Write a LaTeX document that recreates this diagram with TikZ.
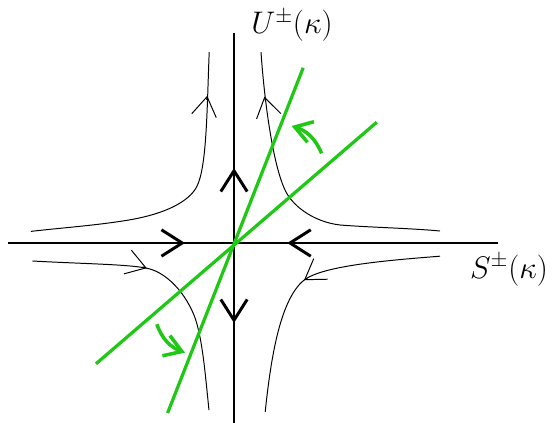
\documentclass[tikz,border=0pt]{standalone}
\usepackage{amsmath, amssymb}
\usepackage{xcolor}
\usepackage{tikz}
\usetikzlibrary{arrows.meta}
\definecolor{eiggreen}{RGB}{30,200,20}
\tikzset{
  axline/.style={line width=2.1pt,black},
  axtip/.style={axline,-{Straight Barb[length=5.2mm,width=6.6mm]}},
  orbit/.style={line width=0.7pt,black},
  orbittip/.style={orbit,-{Straight Barb[length=4.8mm,width=6.2mm]}},
  eigline/.style={eiggreen,line width=2.3pt},
  turnarrow/.style={eiggreen,line width=2.5pt,-{Straight Barb[length=4.2mm,width=5.4mm]}},
  axlabel/.style={font=\huge,scale=1.07,inner sep=1pt},
}
\begin{document}
\begin{tikzpicture}
  \useasboundingbox (-5.85,-4.5) rectangle (7.975,6.075);
  % ---- axes: stable S and unstable U directions ----
  \coordinate (O) at (0,0);
  \coordinate (Sl) at (-5.65,0);
  \coordinate (Sr) at (6.6,0);
  \coordinate (Ut) at (0,5.25);
  \coordinate (Ub) at (0,-4.5);
  \draw[axline] (Sl) -- (Sr);
  \draw[axline] (Ub) -- (Ut);
  \draw[axtip] (-1.7,0) -- (-1.225,0);
  \draw[axtip] (1.8,0) -- (1.33,0);
  \draw[axtip] (0,1.4) -- (0,1.875);
  \draw[axtip] (0,-1.5) -- (0,-2.0);
  \node[axlabel] (Ulab) at (1.45,5.43) {$U^{\pm}(\kappa)$};
  \node[axlabel] (Slab) at (6.875,-0.68) {$S^{\pm}(\kappa)$};
  % ---- orbits near the saddle ----
  \draw[orbit] (-0.62,4.77) .. controls (-0.676,3.37) and (-0.677,1.9) .. (-0.93,1.41)
    .. controls (-1.123,1.036) and (-1.714,0.733) .. (-2.6,0.58)
    .. controls (-3.388,0.444) and (-4.286,0.382) .. (-5.08,0.29);
  \draw[orbit] (0.675,4.77) .. controls (0.765,3.47) and (0.996,1.804) .. (1.32,1.24)
    .. controls (1.494,0.937) and (1.955,0.534) .. (2.65,0.45)
    .. controls (3.4,0.39) and (4.4,0.37) .. (5.15,0.30);
  \draw[orbit] (-5.04,-0.45) .. controls (-3.8,-0.52) and (-2.67,-0.53) .. (-2.18,-0.63)
    .. controls (-1.592,-0.75) and (-1.09,-1.432) .. (-0.93,-2.01)
    .. controls (-0.77,-2.588) and (-0.709,-3.384) .. (-0.625,-4.18);
  \draw[orbit] (5.15,-0.33) .. controls (3.95,-0.426) and (2.218,-0.558) .. (1.75,-0.93)
    .. controls (1.126,-1.426) and (0.907,-3.027) .. (0.78,-4.22);
  \draw[orbittip] (-0.686,3.58) -- (-0.67,3.68);
  \draw[orbittip] (0.782,3.56) -- (0.76,3.66);
  \draw[orbittip] (-2.28,-0.598) -- (-2.18,-0.63);
  \draw[orbittip] (1.833,-0.874) -- (1.75,-0.93);
  % ---- green lines through the origin and their turning ----
  \coordinate (Ga) at (1.73,4.38);
  \coordinate (Gb) at (-1.66,-4.25);
  \coordinate (Gc) at (3.57,3.02);
  \coordinate (Gd) at (-3.45,-3.02);
  \draw[eigline] (Gb) -- (Ga);
  \draw[eigline] (Gd) -- (Gc);
  \draw[turnarrow] (2.19,2.24) to[bend right=25] (1.44,2.925);
  \draw[turnarrow] (-1.93,-2.03) to[bend right=25] (-1.225,-2.74);
\end{tikzpicture}
\end{document}
